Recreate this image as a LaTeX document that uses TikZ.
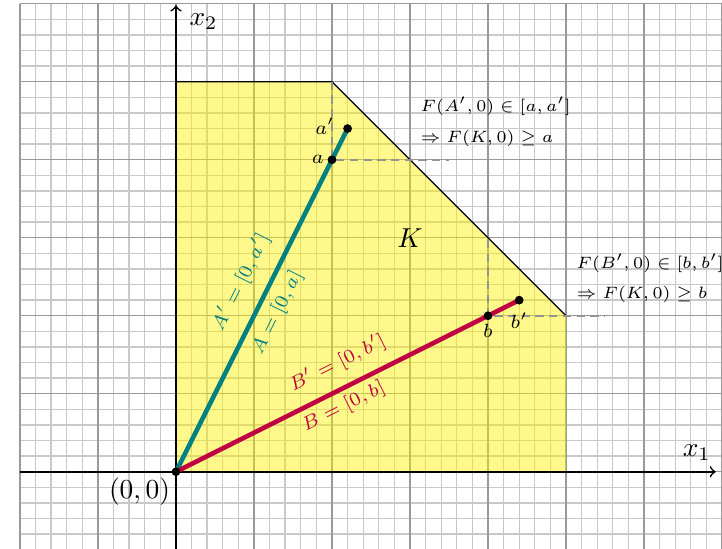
\documentclass[tikz,border=0pt]{standalone}
\usetikzlibrary{calc}
\begin{document}
\begin{tikzpicture}[x=1cm,y=1cm,
  minorgrid/.style={gray!42,line width=0.5pt},
  majorgrid/.style={gray!80,line width=0.5pt},
  axis/.style={->,line width=0.6pt,black},
  seg/.style={line width=1.7pt},
  guide/.style={gray!85,dash pattern=on 3pt off 2pt,line width=0.8pt},
  dot/.style={circle,fill=black,inner sep=0pt,minimum size=3.2pt},
  seglabel/.style={font=\fontsize{7.4}{8}\selectfont,inner sep=1pt},
  ptlabel/.style={font=\scriptsize,inner sep=1pt},
  note/.style={font=\fontsize{6.5}{7.5}\selectfont,anchor=west,inner sep=0pt}]
\useasboundingbox (-2.256,-0.99) rectangle (7.0,6.048);
% grid
\draw[minorgrid] (-2,-1) grid[step=0.2] (7,6);
\draw[majorgrid] (-2,-1) grid[step=1] (7,6);
% region K
\fill[yellow,fill opacity=0.45] (0,0) -- (5,0) -- (5,2) -- (2,5) -- (0,5) -- cycle;
\draw[black,line width=0.5pt] (0,5) -- (2,5) -- (5,2);
\node at (3,3) {$K$};
% axes
\coordinate (xl) at (-2,0);
\coordinate (xr) at (6.92,0);
\coordinate (yb) at (0,-1);
\coordinate (yt) at (0,5.98);
\draw[axis] (xl) -- (xr);
\draw[axis] (yb) -- (yt);
\node[anchor=south east] at (6.98,0.02) {$x_1$};
\node[anchor=north west] at (0.05,6.0) {$x_2$};
% points
\coordinate (o) at (0,0);
\coordinate (a) at (2,4);
\coordinate (ap) at (2.2,4.4);
\coordinate (b) at (4,2);
\coordinate (bp) at (4.4,2.2);
\node[anchor=north east,inner sep=2pt] at (o) {$(0,0)$};
% guides
\coordinate (ga1) at (2,5);
\coordinate (ga2) at (3.5,4);
\coordinate (gb1) at (4,3.5);
\coordinate (gb2) at (5.5,2);
\draw[guide] (ga1) -- (a) -- (ga2);
\draw[guide] (gb1) -- (b) -- (gb2);
% segments
\draw[seg,teal] (o) -- (ap);
\draw[seg,purple] (o) -- (bp);
\node[dot] (no) at (o) {};
\node[dot] (na) at (a) {};
\node[dot] (nap) at (ap) {};
\node[dot] (nb) at (b) {};
\node[dot] (nbp) at (bp) {};
% point labels
\node[ptlabel,left] at (na.west) {$a$};
\node[ptlabel] at (1.91,4.43) {$a'$};
\node[ptlabel,below] at (nb.south) {$b$};
\node[ptlabel] at (4.4,1.94) {$b'$};
% segment labels
\node[seglabel,teal,rotate=63.43] at (0.83,2.43) {$A'=[0,a']$};
\node[seglabel,teal,rotate=63.43] at (1.3,2.04) {$A=[0,a]$};
\node[seglabel,purple,rotate=26.57] at (2.07,1.39) {$B'=[0,b']$};
\node[seglabel,purple,rotate=26.57] at (2.15,0.83) {$B=[0,b]$};
% notes
\node[note] at (3.13,4.68) {$F(A',0)\in[a,a']$};
\node[note] at (3.13,4.28) {$\Rightarrow F(K,0)\geq a$};
\node[note] at (5.13,2.67) {$F(B',0)\in[b,b']$};
\node[note] at (5.13,2.28) {$\Rightarrow F(K,0)\geq b$};
\end{tikzpicture}
\end{document}
